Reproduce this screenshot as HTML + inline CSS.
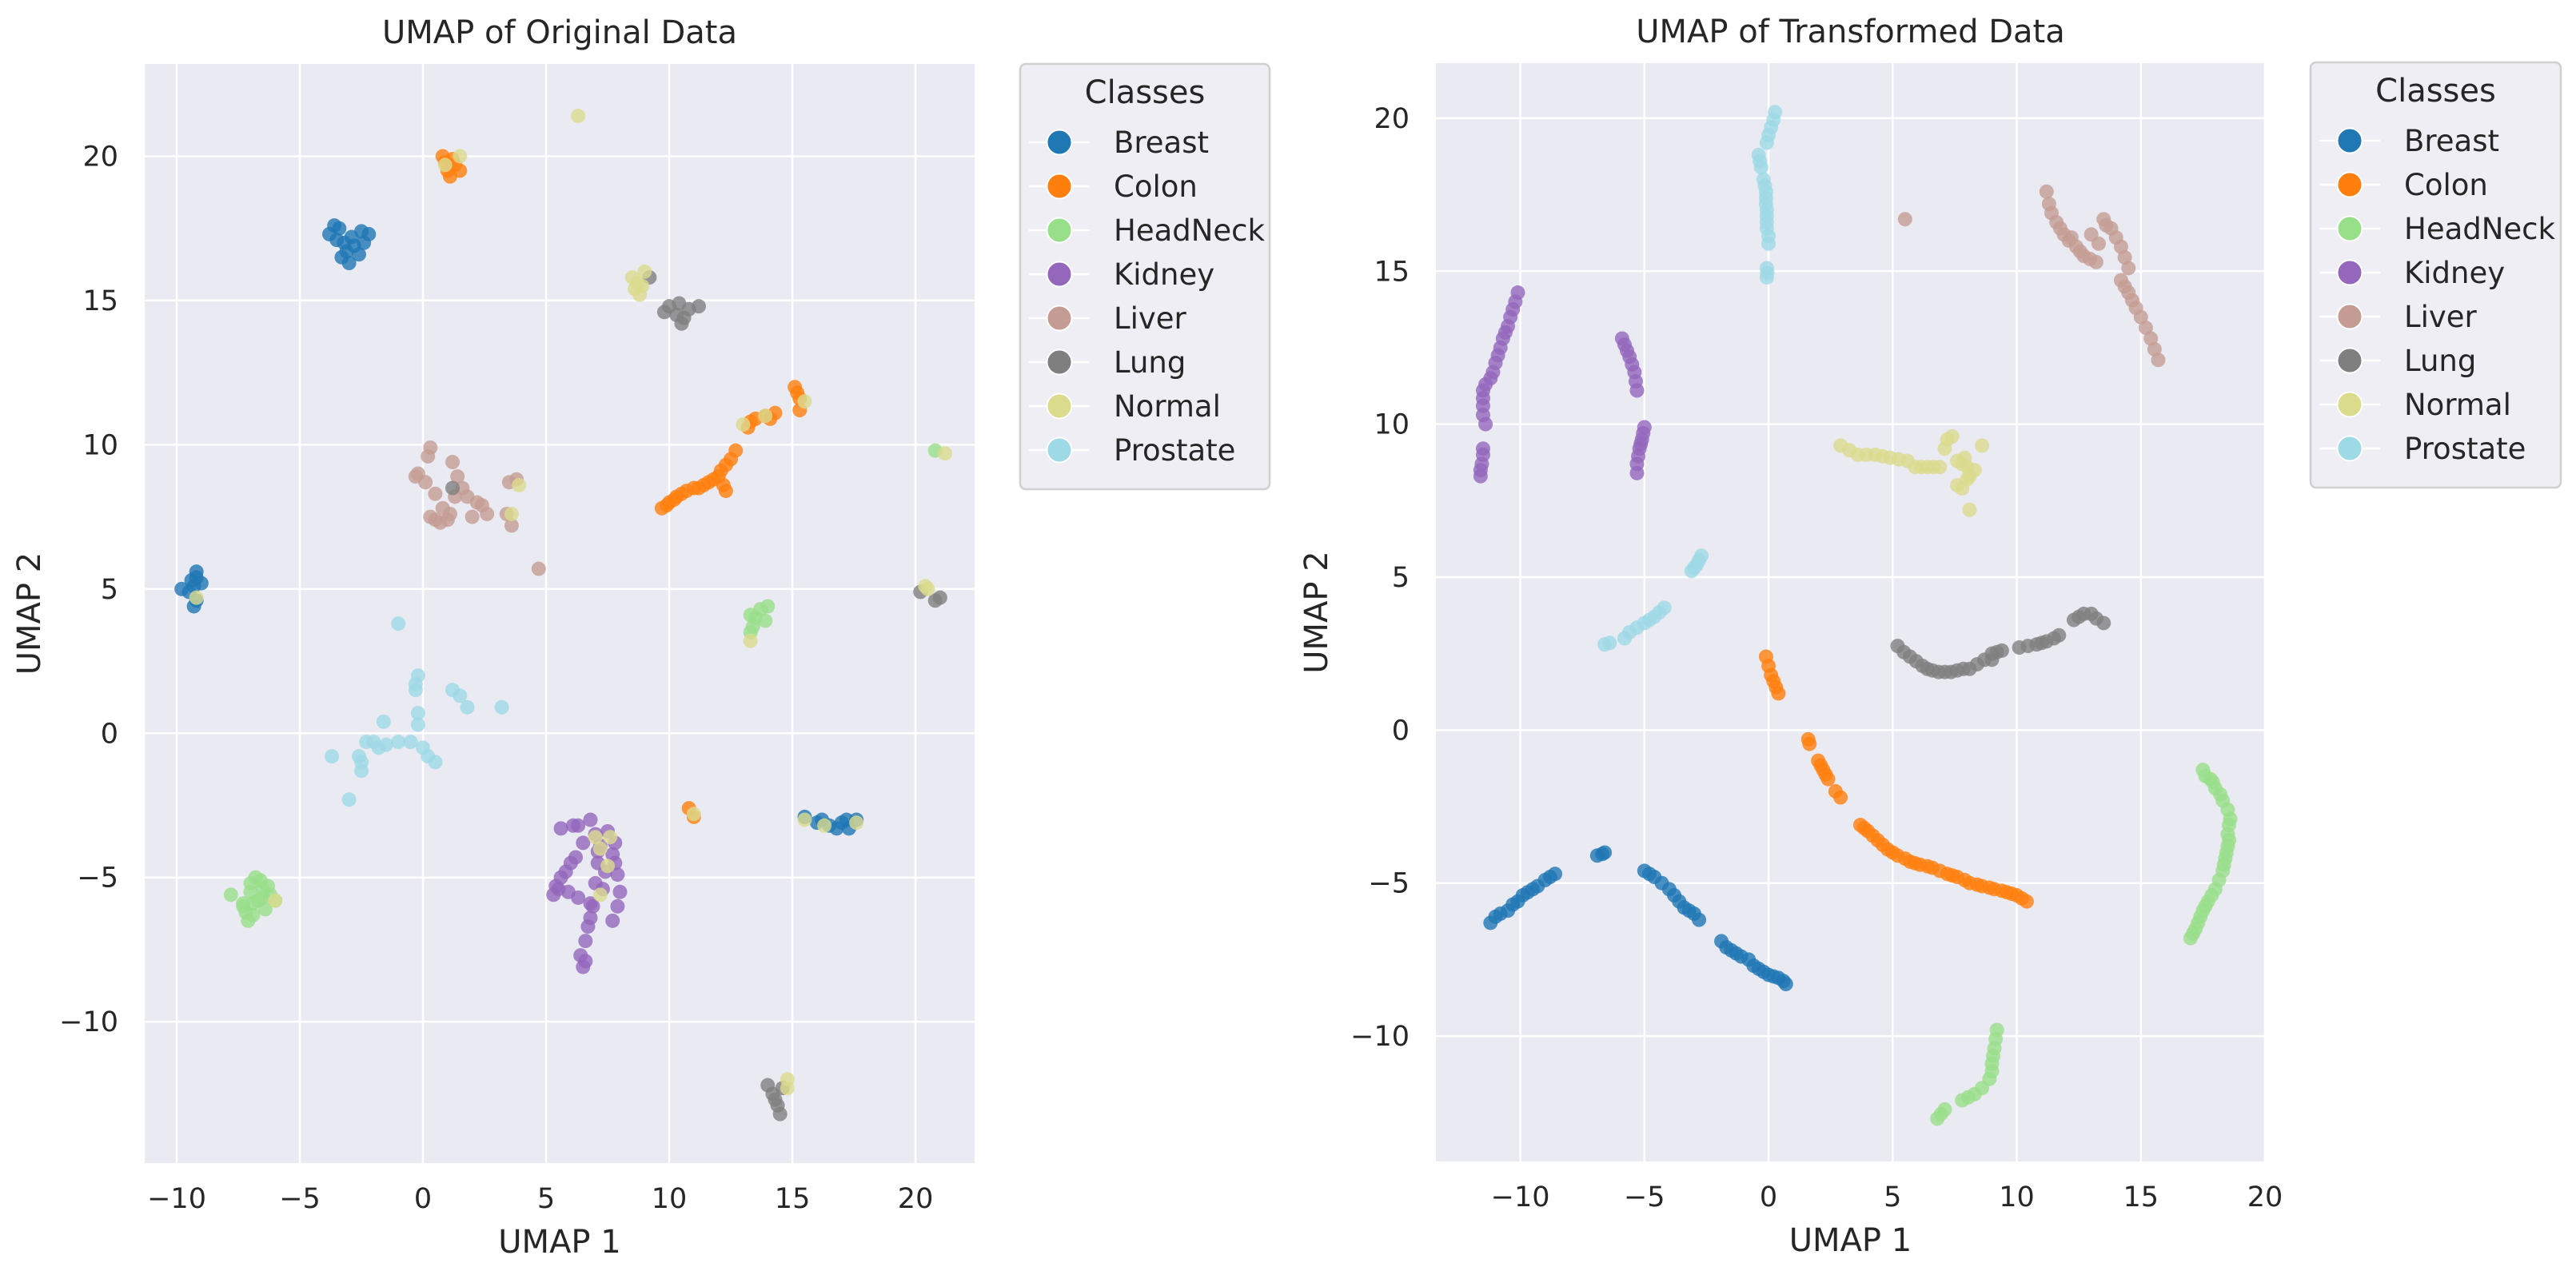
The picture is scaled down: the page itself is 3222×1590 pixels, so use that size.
<!DOCTYPE html>
<html><head><meta charset="utf-8"><style>
html,body{margin:0;padding:0;background:#fff;}
svg{display:block;font-family:"DejaVu Sans","Liberation Sans",sans-serif;}
</style></head><body>
<svg id="chart" width="3222" height="1590" viewBox="0 0 3222 1590"></svg>
<script>
const classes = ["Breast","Colon","HeadNeck","Kidney","Liver","Lung","Normal","Prostate"];
const colors = ["#1f77b4","#ff7f0e","#98df8a","#9467bd","#c49c94","#7f7f7f","#dbdb8d","#9edae5"];
const xTicks = [-10,-5,0,5,10,15,20];
const yTicksLeft = [-10,-5,0,5,10,15,20];
const yTicksRight = [-10,-5,0,5,10,15,20];

const origBreast = [[-3.6,17.6],[-3.8,17.3],[-3.4,17.5],[-3.5,17.1],[-3.3,16.5],[-3.0,16.3],[-2.6,16.6],[-2.5,17.4],[-2.2,17.3],[-2.8,16.9],[-3.2,17.0],[-2.9,17.2],[-3.1,16.7],[-2.4,17.0],[-9.8,5.0],[-9.4,5.3],[-9.2,5.6],[-9.3,5.1],[-9.2,4.6],[-9.3,4.4],[-9.0,5.2],[-9.5,4.9],[-9.2,5.4],[15.5,-2.9],[16.0,-3.1],[16.5,-3.2],[17.0,-3.1],[17.3,-3.3],[17.6,-3.0],[16.8,-3.3],[16.2,-3.0],[17.2,-3.0]];
const origColon = [[0.8,20.0],[1.0,19.5],[1.3,19.7],[1.5,19.5],[0.9,19.8],[1.2,19.9],[1.1,19.3],[9.7,7.8],[9.9,7.9],[10.0,8.0],[10.2,8.1],[10.3,8.2],[10.5,8.3],[10.7,8.4],[11.0,8.5],[11.2,8.5],[11.4,8.6],[11.6,8.7],[11.8,8.8],[12.0,8.9],[12.1,9.1],[12.3,9.3],[12.5,9.5],[12.7,9.8],[12.2,8.6],[12.3,8.4],[13.2,10.6],[13.3,10.8],[13.5,10.9],[13.9,11.0],[14.3,11.1],[14.1,10.9],[15.1,12.0],[15.2,11.8],[15.3,11.6],[15.3,11.2],[10.8,-2.6],[11.0,-2.9]];
const origHeadNeck = [[-7.8,-5.6],[-7.3,-5.9],[-7.0,-5.2],[-6.8,-5.0],[-6.5,-5.4],[-6.2,-5.6],[-6.0,-5.8],[-6.9,-6.3],[-7.1,-6.5],[-7.3,-6.0],[-6.4,-6.1],[-7.0,-5.5],[-6.6,-5.1],[-6.7,-5.8],[-6.3,-5.3],[-7.2,-6.2],[-6.9,-5.9],[-6.5,-5.7],[13.3,4.1],[13.4,3.7],[13.7,4.3],[14.0,4.4],[13.9,3.9],[13.5,4.0],[13.3,3.5],[20.8,9.8]];
const origKidney = [[5.6,-3.3],[6.1,-3.2],[6.3,-3.2],[6.8,-3.0],[7.0,-3.5],[7.5,-3.4],[6.5,-3.8],[6.2,-4.3],[6.0,-4.5],[5.8,-4.8],[5.6,-5.0],[5.4,-5.3],[5.3,-5.6],[5.5,-5.4],[5.9,-5.5],[6.3,-5.7],[6.8,-5.9],[7.0,-5.2],[7.1,-4.5],[7.1,-4.1],[7.7,-4.2],[7.8,-3.8],[7.8,-4.5],[7.9,-4.9],[8.0,-5.5],[7.9,-6.0],[7.7,-6.5],[6.9,-6.0],[6.8,-6.4],[6.7,-6.7],[6.6,-7.2],[6.4,-7.7],[6.5,-8.1],[6.6,-7.9],[7.4,-4.8],[7.2,-3.9],[7.3,-5.4]];
const origLiver = [[0.3,9.9],[0.2,9.6],[-0.2,9.0],[-0.3,8.9],[0.1,8.7],[0.5,8.3],[0.8,7.8],[0.5,7.4],[0.7,7.3],[1.0,7.4],[1.2,9.4],[1.4,8.9],[1.8,8.2],[2.2,8.0],[2.4,7.9],[2.6,7.6],[2.0,7.5],[3.4,7.6],[3.6,7.2],[3.8,8.8],[3.5,8.7],[1.6,8.5],[4.7,5.7],[0.3,7.5],[1.3,8.2],[1.1,7.6]];
const origLung = [[10.0,14.8],[10.3,14.5],[10.5,14.2],[10.8,14.7],[11.2,14.8],[9.8,14.6],[10.4,14.9],[10.6,14.4],[9.2,15.8],[14.0,-12.2],[14.2,-12.5],[14.3,-12.7],[14.4,-12.9],[14.5,-13.2],[14.6,-12.3],[20.2,4.9],[21.0,4.7],[20.8,4.6],[1.2,8.5]];
const origNormal = [[6.3,21.4],[1.5,20.0],[0.9,19.7],[8.5,15.8],[8.8,15.2],[8.7,15.6],[9.0,16.0],[8.6,15.4],[8.9,15.5],[3.9,8.6],[3.6,7.6],[-9.2,4.7],[13.3,3.2],[20.4,5.1],[20.5,5.0],[-6.0,-5.8],[7.0,-3.6],[7.6,-3.6],[7.2,-4.0],[7.5,-4.6],[7.2,-5.6],[11.0,-2.8],[15.5,-3.0],[16.3,-3.2],[17.6,-3.1],[14.8,-12.0],[14.8,-12.3],[15.5,11.5],[13.9,11.0],[13.0,10.7],[21.2,9.7]];
const origProstate = [[-1.0,3.8],[-0.2,2.0],[-0.3,1.7],[-0.3,1.5],[-0.2,0.7],[-0.2,0.3],[1.2,1.5],[1.5,1.3],[1.8,0.9],[3.2,0.9],[-1.6,0.4],[-2.3,-0.3],[-1.5,-0.4],[-1.0,-0.3],[-0.5,-0.3],[0.0,-0.5],[0.2,-0.8],[0.5,-1.0],[-2.5,-1.3],[-2.5,-1.0],[-2.6,-0.8],[-3.7,-0.8],[-3.0,-2.3],[-2.0,-0.3],[-1.8,-0.5]];

const tranBreast = [[-11.2,-6.3],[-11.0,-6.1],[-10.8,-6.0],[-10.5,-5.9],[-10.3,-5.7],[-10.1,-5.6],[-9.9,-5.4],[-9.7,-5.3],[-9.5,-5.2],[-9.3,-5.1],[-9.0,-4.9],[-8.8,-4.8],[-8.6,-4.7],[-6.9,-4.1],[-6.7,-4.05],[-6.6,-4.0],[-5.0,-4.6],[-4.8,-4.7],[-4.6,-4.8],[-4.3,-5.0],[-4.0,-5.2],[-3.8,-5.4],[-3.6,-5.6],[-3.4,-5.8],[-3.2,-5.9],[-3.0,-6.0],[-2.8,-6.2],[-1.9,-6.9],[-1.7,-7.1],[-1.5,-7.2],[-1.3,-7.3],[-1.1,-7.4],[-0.8,-7.5],[-0.6,-7.7],[-0.4,-7.8],[-0.2,-7.9],[0.0,-8.0],[0.2,-8.05],[0.4,-8.1],[0.6,-8.2],[0.7,-8.3]];
const tranColon = [[-0.1,2.4],[0.0,2.1],[0.1,1.8],[0.2,1.6],[0.3,1.4],[0.4,1.2],[1.6,-0.3],[1.65,-0.45],[2.0,-1.0],[2.1,-1.15],[2.2,-1.3],[2.3,-1.45],[2.4,-1.6],[2.7,-2.0],[2.9,-2.2],[3.7,-3.1],[3.85,-3.2],[4.0,-3.3],[4.2,-3.45],[4.4,-3.6],[4.6,-3.75],[4.8,-3.9],[5.0,-4.0],[5.2,-4.1],[5.5,-4.2],[5.7,-4.3],[5.9,-4.35],[6.1,-4.4],[6.4,-4.45],[6.6,-4.5],[6.9,-4.6],[7.2,-4.7],[7.4,-4.75],[7.6,-4.8],[7.9,-4.9],[8.1,-5.0],[8.4,-5.05],[8.6,-5.1],[8.9,-5.15],[9.1,-5.2],[9.4,-5.25],[9.6,-5.3],[9.8,-5.35],[10.0,-5.4],[10.2,-5.5],[10.4,-5.6]];
const tranHeadNeck = [[17.5,-1.3],[17.6,-1.5],[17.8,-1.6],[17.9,-1.7],[18.0,-1.9],[18.2,-2.1],[18.3,-2.3],[18.5,-2.6],[18.6,-2.9],[18.55,-3.1],[18.5,-3.4],[18.55,-3.6],[18.5,-3.8],[18.45,-4.0],[18.4,-4.2],[18.35,-4.4],[18.3,-4.6],[18.15,-4.9],[18.0,-5.2],[17.85,-5.4],[17.7,-5.6],[17.6,-5.75],[17.5,-5.9],[17.4,-6.1],[17.3,-6.3],[17.2,-6.5],[17.1,-6.65],[17.0,-6.8],[9.2,-9.8],[9.15,-10.1],[9.1,-10.4],[9.05,-10.65],[9.0,-10.9],[9.0,-11.15],[8.9,-11.4],[8.6,-11.7],[8.3,-11.9],[8.05,-12.0],[7.8,-12.1],[6.8,-12.7],[6.95,-12.55],[7.1,-12.4]];
const tranKidney = [[-10.1,14.3],[-10.2,14.0],[-10.3,13.75],[-10.4,13.5],[-10.5,13.2],[-10.6,13.0],[-10.7,12.8],[-10.8,12.5],[-10.9,12.25],[-11.0,12.0],[-11.1,11.7],[-11.2,11.5],[-11.4,11.3],[-11.5,11.1],[-11.5,10.85],[-11.5,10.6],[-11.5,10.3],[-11.4,10.0],[-11.5,9.2],[-11.5,9.0],[-11.6,8.5],[-11.6,8.3],[-11.55,8.7],[-5.9,12.8],[-5.8,12.6],[-5.7,12.4],[-5.6,12.2],[-5.5,11.95],[-5.4,11.7],[-5.35,11.4],[-5.3,11.1],[-5.0,9.9],[-5.05,9.7],[-5.1,9.5],[-5.15,9.35],[-5.2,9.2],[-5.25,8.95],[-5.3,8.7],[-5.3,8.4]];
const tranLiver = [[11.2,17.6],[11.3,17.2],[11.4,16.9],[11.6,16.6],[11.75,16.4],[11.9,16.2],[12.1,16.0],[12.4,15.8],[12.55,15.65],[12.7,15.5],[12.95,15.4],[13.2,15.3],[13.5,16.7],[13.6,16.5],[13.0,16.2],[13.8,16.4],[14.0,16.1],[14.2,15.8],[14.35,15.45],[14.5,15.1],[14.2,14.7],[14.35,14.5],[14.5,14.3],[14.65,14.05],[14.8,13.8],[15.0,13.5],[15.2,13.15],[15.4,12.8],[15.55,12.45],[15.7,12.1],[5.5,16.7],[12.2,16.1],[13.3,15.9]];
const tranLung = [[5.2,2.75],[5.45,2.55],[5.7,2.4],[5.95,2.25],[6.2,2.1],[6.4,2.0],[6.6,1.95],[6.85,1.9],[7.1,1.9],[7.35,1.9],[7.6,1.95],[7.85,2.0],[8.1,2.0],[8.4,2.15],[8.7,2.3],[9.0,2.5],[9.2,2.55],[9.4,2.6],[9.0,2.3],[10.1,2.7],[10.45,2.75],[10.8,2.8],[11.0,2.85],[11.2,2.9],[11.5,3.0],[11.7,3.1],[12.3,3.6],[12.5,3.7],[12.7,3.8],[13.0,3.8],[13.2,3.65],[13.5,3.5]];
const tranNormal = [[2.9,9.3],[3.25,9.15],[3.6,9.0],[3.95,9.0],[4.3,9.0],[4.6,8.95],[4.9,8.9],[5.25,8.85],[5.6,8.8],[5.9,8.6],[6.15,8.6],[6.4,8.6],[6.65,8.6],[6.9,8.6],[7.2,9.5],[7.4,9.6],[7.1,9.2],[7.6,8.8],[7.8,8.7],[8.0,8.6],[8.3,8.5],[8.1,8.3],[7.6,8.0],[7.8,7.9],[8.0,8.2],[8.1,7.2],[8.6,9.3],[7.9,8.9]];
const tranProstate = [[0.26,20.2],[0.2,19.95],[0.1,19.7],[0.0,19.45],[-0.07,19.2],[-0.4,18.8],[-0.35,18.6],[-0.3,18.4],[-0.2,18.0],[-0.15,17.8],[-0.1,17.6],[-0.1,17.4],[-0.1,17.2],[-0.07,17.0],[-0.07,16.8],[-0.07,16.6],[-0.07,16.4],[0.0,16.15],[0.0,15.9],[-0.07,15.1],[-0.05,14.95],[-0.07,14.8],[-2.7,5.7],[-2.8,5.55],[-2.9,5.4],[-3.0,5.3],[-3.1,5.2],[-4.2,4.0],[-4.4,3.85],[-4.6,3.7],[-4.8,3.6],[-5.0,3.5],[-5.3,3.35],[-5.6,3.2],[-5.8,3.0],[-6.6,2.8],[-6.4,2.85]];

const origSeries = [origBreast,origColon,origHeadNeck,origKidney,origLiver,origLung,origNormal,origProstate];
const tranSeries = [tranBreast,tranColon,tranHeadNeck,tranKidney,tranLiver,tranLung,tranNormal,tranProstate];

const NS = "http://www.w3.org/2000/svg";
const svg = document.getElementById("chart");
function mk(tag, attrs, parent){const e=document.createElementNS(NS,tag);for(const k in attrs)e.setAttribute(k,attrs[k]);(parent||svg).appendChild(e);return e;}

function drawPanel(p){
  const g = mk("g",{});
  
  
  const sx = v => p.left + (v - p.xmin)/(p.xmax - p.xmin)*(p.right - p.left);
  const sy = v => p.bottom - (v - p.ymin)/(p.ymax - p.ymin)*(p.bottom - p.top);
  const bg = mk("rect",{x:p.left,y:p.top,width:p.right-p.left,height:p.bottom-p.top,fill:"#eaeaf2"},g);
  
  
  xTicks.forEach(t=>{
    const x=sx(t);
    const l=mk("line",{x1:x,x2:x,y1:p.top,y2:p.bottom,stroke:"#fff","stroke-width":2.5},g);
    
    
    const tx=mk("text",{x:x,y:p.bottom+56,"font-size":35,"text-anchor":"middle",fill:"#262626"},g);
    tx.textContent=(t<0?"\u2212"+(-t):t);
    
    
  });
  p.yTicks.forEach(t=>{
    const y=sy(t);
    const l=mk("line",{x1:p.left,x2:p.right,y1:y,y2:y,stroke:"#fff","stroke-width":2.5},g);
    
    
    const tx=mk("text",{x:p.left-33,y:y+12,"font-size":35,"text-anchor":"end",fill:"#262626"},g);
    tx.textContent=(t<0?"\u2212"+(-t):t);
    
    
  });
  p.series.forEach((pts,ci)=>{
    const sg=mk("g",{fill:colors[ci],"fill-opacity":0.8},g);
    
    
    pts.forEach(d=>{
      const c=mk("circle",{cx:sx(d[0]),cy:sy(d[1]),r:9},sg);
      
      
    });
  });
  const title=mk("text",{x:(p.left+p.right)/2,y:p.top-26,"font-size":40,"text-anchor":"middle",fill:"#262626"},g);
  title.textContent=p.title;
  
  
  const xl=mk("text",{x:(p.left+p.right)/2,y:p.bottom+112,"font-size":40,"text-anchor":"middle",fill:"#262626"},g);
  xl.textContent="UMAP 1";
  
  
  const yx=p.ylabX, yy=(p.top+p.bottom)/2;
  const yl=mk("text",{x:yx,y:yy,"font-size":40,"text-anchor":"middle",fill:"#262626",transform:"rotate(-90 "+yx+" "+yy+")"},g);
  yl.textContent="UMAP 2";
  
  
  const lg=mk("g",{},g);
  
  
  const L=p.legend;
  mk("rect",{x:L.x,y:L.y,width:L.w,height:L.h,rx:7,fill:"#eeeef4",stroke:"#d0d0d0","stroke-width":2.5},lg);
  const lt=mk("text",{x:L.x+L.w/2,y:L.y+49,"font-size":40,"text-anchor":"middle",fill:"#262626"},lg);
  lt.textContent="Classes";
  
  
  classes.forEach((c,i)=>{
    const y=L.y+98+i*55;
    const e=mk("g",{},lg);
    
    
    mk("line",{x1:L.x+11,x2:L.x+87,y1:y,y2:y,stroke:"#fff","stroke-width":2.5},e);
    mk("circle",{cx:L.x+49,cy:y,r:15.5,fill:colors[i],stroke:"#fff","stroke-width":2},e);
    const t=mk("text",{x:L.x+117,y:y+13,"font-size":37,fill:"#262626"},e);
    t.textContent=c;
  });
}

drawPanel({name:"left-panel-original",title:"UMAP of Original Data",left:181,right:1219,top:80,bottom:1455,
  xmin:-11.3,xmax:22.4,ymin:-14.9,ymax:23.2,yTicks:yTicksLeft,series:origSeries,ylabX:50,
  legend:{x:1276,y:80,w:312,h:532}});
drawPanel({name:"right-panel-transformed",title:"UMAP of Transformed Data",left:1796,right:2833,top:79,bottom:1453,
  xmin:-13.4,xmax:20.0,ymin:-14.1,ymax:21.8,yTicks:yTicksRight,series:tranSeries,ylabX:1660,
  legend:{x:2890,y:78,w:313,h:532}});
</script>
</body></html>
